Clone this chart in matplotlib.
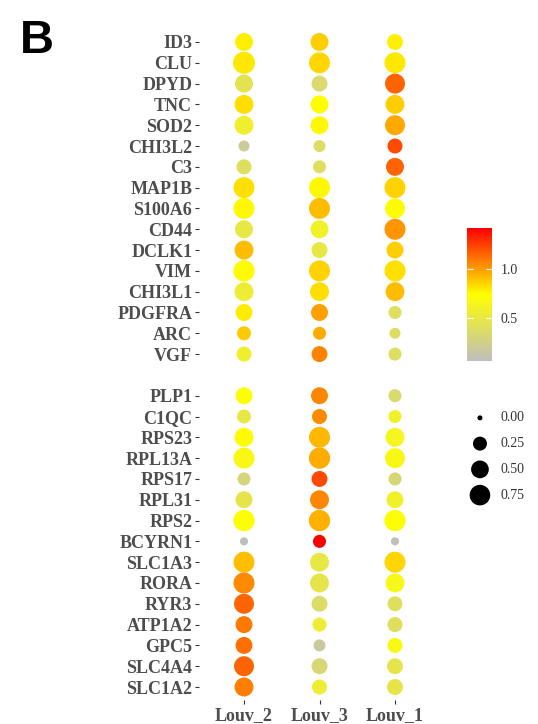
import numpy as np
import matplotlib
matplotlib.use("Agg")
import matplotlib.pyplot as plt
from matplotlib.colors import LinearSegmentedColormap, Normalize
from matplotlib.cm import ScalarMappable

# ---- data -------------------------------------------------------------
clusters = ["Louv_2", "Louv_3", "Louv_1"]

genes_top = ["ID3", "CLU", "DPYD", "TNC", "SOD2", "CHI3L2", "C3", "MAP1B",
             "S100A6", "CD44", "DCLK1", "VIM", "CHI3L1", "PDGFRA", "ARC", "VGF"]
genes_bottom = ["PLP1", "C1QC", "RPS23", "RPL13A", "RPS17", "RPL31", "RPS2",
                "BCYRN1", "SLC1A3", "RORA", "RYR3", "ATP1A2", "GPC5", "SLC4A4",
                "SLC1A2"]

# average expression (colour)
expr_louv2 = [0.78, 0.80, 0.45, 0.83, 0.57, 0.20, 0.40, 0.82,
              0.76, 0.50, 0.92, 0.75, 0.55, 0.79, 0.88, 0.57,
              0.74, 0.50, 0.75, 0.67, 0.30, 0.47, 0.73,
              0.06, 0.91, 1.05, 1.15, 1.10, 1.12, 1.15, 1.08]
expr_louv3 = [0.87, 0.85, 0.35, 0.74, 0.76, 0.38, 0.40, 0.76,
              0.92, 0.60, 0.50, 0.86, 0.83, 0.99, 0.96, 1.07,
              1.06, 1.05, 0.93, 0.96, 1.22, 1.06, 0.95,
              1.42, 0.50, 0.47, 0.37, 0.55, 0.18, 0.33, 0.55]
expr_louv1 = [0.78, 0.80, 1.15, 0.87, 0.97, 1.22, 1.15, 0.86,
              0.75, 1.02, 0.87, 0.82, 0.92, 0.40, 0.38, 0.40,
              0.35, 0.60, 0.63, 0.67, 0.32, 0.60, 0.72,
              0.08, 0.85, 0.65, 0.40, 0.40, 0.68, 0.47, 0.47]

# fraction of cells expressing (size)
pct_louv2 = [0.52, 0.89, 0.52, 0.60, 0.60, 0.11, 0.31, 0.79,
             0.79, 0.52, 0.60, 0.82, 0.60, 0.44, 0.25, 0.31,
             0.44, 0.25, 0.60, 0.79, 0.20, 0.44, 0.82,
             0.03, 0.79, 0.79, 0.69, 0.44, 0.44, 0.69, 0.60]
pct_louv3 = [0.52, 0.79, 0.37, 0.52, 0.52, 0.15, 0.20, 0.79,
             0.79, 0.52, 0.37, 0.79, 0.60, 0.44, 0.20, 0.37,
             0.44, 0.31, 0.79, 0.82, 0.37, 0.60, 0.82,
             0.20, 0.60, 0.60, 0.37, 0.25, 0.15, 0.37, 0.31]
pct_louv1 = [0.37, 0.79, 0.69, 0.60, 0.69, 0.31, 0.52, 0.79,
             0.69, 0.79, 0.44, 0.80, 0.60, 0.20, 0.11, 0.20,
             0.20, 0.20, 0.60, 0.69, 0.20, 0.44, 0.82,
             0.03, 0.79, 0.60, 0.31, 0.31, 0.31, 0.37, 0.37]

size_breaks = [0.00, 0.25, 0.50, 0.75]
colour_breaks = [0.5, 1.0]

# ---- helpers ------------------------------------------------------------
DPI = 100


def marker_area(p):
    """Area-style size scale: diameter grows with sqrt of the fraction."""
    d_px = 5.0 + 18.0 * np.sqrt(np.asarray(p, dtype=float))
    return (d_px * 72.0 / DPI) ** 2


cmap = LinearSegmentedColormap.from_list(
    "grey_yellow_red", ["#BEBEBE", "#FFFF00", "#FF0000"])
all_expr = np.array([expr_louv2, expr_louv3, expr_louv1])
norm = Normalize(vmin=all_expr.min(), vmax=all_expr.max())

# row positions: the two gene groups are separated by one empty row
genes = genes_top + genes_bottom
ypos = list(range(len(genes_top))) + \
    [len(genes_top) + 1 + i for i in range(len(genes_bottom))]

label_font = {"family": "Liberation Serif", "weight": "bold", "size": 13}
legend_font = {"family": "Liberation Serif", "size": 10}
text_grey = "#4D4D4D"

# ---- figure ---------------------------------------------------------------
W, H = 538, 724
fig = plt.figure(figsize=(W / DPI, H / DPI), dpi=DPI)


def px_axes(x0, y0, x1, y1):
    return fig.add_axes([x0 / W, 1 - y1 / H, (x1 - x0) / W, (y1 - y0) / H])


ax = px_axes(198.7, 29.5, 440.3, 699.5)

exprs = [expr_louv2, expr_louv3, expr_louv1]
pcts = [pct_louv2, pct_louv3, pct_louv1]
for i, (e, p) in enumerate(zip(exprs, pcts)):
    ax.scatter(np.full(len(genes), i), ypos, s=marker_area(p),
               c=e, cmap=cmap, norm=norm, linewidths=0, zorder=3)

ax.set_xlim(-0.6, len(clusters) - 1 + 0.6)
ax.set_ylim(ypos[-1] + 0.6, -0.6)
ax.set_xticks(range(len(clusters)))
ax.set_xticklabels(clusters, fontdict=label_font, color=text_grey)
ax.set_yticks(ypos)
ax.set_yticklabels(genes, fontdict=label_font, color=text_grey)
ax.tick_params(axis="both", length=3.2, width=0.8, color="#333333", pad=1.5)
ax.tick_params(axis="x", pad=2.5)
for sp in ax.spines.values():
    sp.set_visible(False)

# panel letter
fig.text(20 / W, 1 - 53 / H, "B", family="Liberation Sans",
         weight="bold", size=34, color="black", ha="left", va="baseline")

# colour bar
cax = px_axes(467, 228, 492, 361)
sm = ScalarMappable(norm=norm, cmap=cmap)
cb = fig.colorbar(sm, cax=cax, ticks=colour_breaks)
cb.outline.set_visible(False)
cb.set_ticklabels([f"{b:.1f}" for b in colour_breaks])
cax.tick_params(axis="y", direction="in", length=4.5, width=0.8,
                color="white", left=True, right=True, pad=6)
for lab in cax.get_yticklabels():
    lab.set_fontfamily("Liberation Serif")
    lab.set_fontsize(10)
    lab.set_color("#333333")

# size legend
lax = px_axes(465, 405, 530, 508)
lax.set_xlim(0, 1)
lax.set_ylim(len(size_breaks) - 0.5, -0.5)
lax.axis("off")
lax.scatter(np.full(len(size_breaks), 0.23), range(len(size_breaks)),
            s=marker_area(size_breaks), c="black", linewidths=0)
for i, b in enumerate(size_breaks):
    lax.text(0.55, i, f"{b:.2f}", va="center", ha="left",
             color="#333333", **legend_font)

fig.savefig("out.png", dpi=DPI, facecolor="white")
